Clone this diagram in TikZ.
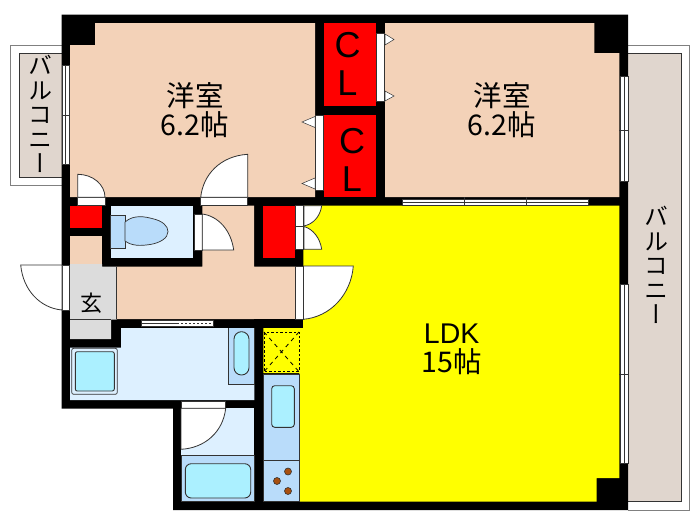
\documentclass[tikz,border=0pt]{standalone}
\usepackage{fontspec}
\setmainfont{Noto Sans CJK JP}
\newfontfamily\vertfont[RawFeature=+vert]{Noto Sans CJK JP}
\newfontfamily\latfont{Liberation Sans}
\definecolor{salmon}{HTML}{F3D2B8}
\definecolor{closet}{HTML}{FF0000}
\definecolor{ldk}{HTML}{FFFF00}
\definecolor{wet}{HTML}{DDF0FF}
\definecolor{fixture}{HTML}{B9DCFA}
\definecolor{basin}{HTML}{ABF0FF}
\definecolor{deck}{HTML}{E0D6CE}
\definecolor{entry}{HTML}{DCDCDC}
\definecolor{burner}{HTML}{A85010}
\definecolor{edge}{HTML}{333333}
\tikzset{
  roomfill/.style={fill=#1,draw=none},
  frame/.style={fill=white,draw=edge,line width=.5pt},
  swing/.style={fill=white,draw=edge,line width=.8pt},
  fixbox/.style={fill=fixture,draw=edge,line width=.7pt},
  bowl/.style={fill=basin,draw=edge,line width=.9pt,rounded corners=#1},
  handle/.style={fill=white,draw=edge,line width=.5pt},
  glass/.style={fill=white,draw=edge,line width=.5pt},
  roomlabel/.style={font=\fontsize{28.5}{29}\selectfont,align=center,text=black},
  decklabel/.style={font=\vertfont\fontsize{24}{24.6}\selectfont,align=center,text=black},
  cllabel/.style={font=\latfont\fontsize{36}{37.5}\selectfont,align=center,text=black},
}
\begin{document}
\begin{tikzpicture}[x=1pt,y=-1pt]
\useasboundingbox (0,0) rectangle (700,525);
% balconies
\draw[gray,line width=.8pt,fill=white] (61.5,45) -- (10.3,45) -- (10.3,185.3) -- (61.5,185.3);
\draw[edge,line width=.7pt,fill=deck] (61.5,53.3) -- (19,53.3) -- (19,177.3) -- (61.5,177.3);
\draw[gray,line width=.8pt,fill=white] (628,45) -- (689.3,45) -- (689.3,510) -- (628,510);
\draw[edge,line width=.7pt,fill=deck] (628,53.3) -- (681,53.3) -- (681,501.7) -- (628,501.7);
% walls
\fill[black] (61.5,14.5) -- (628,14.5) -- (628,510) -- (173,510) -- (173,408.5) -- (61.5,408.5) -- cycle;
% rooms
\fill[salmon] (95,23) -- (315,23) -- (315,197) -- (70,197) -- (70,45) -- (95,45) -- cycle;
\fill[salmon] (385,23) -- (594.3,23) -- (594.3,53) -- (619.4,53) -- (619.4,197) -- (385,197) -- cycle;
\fill[closet] (324,23) rectangle (376,105.7);
\fill[closet] (324,115) rectangle (376,196.7);
\fill[closet] (263.3,205.7) rectangle (295,257.7);
\fill[closet] (70,206) rectangle (102,228);
\fill[salmon] (70,236) rectangle (102,264);
\fill[salmon] (202.3,205.7) -- (254.2,205.7) -- (254.2,266.7) -- (295,266.7) -- (295,319) -- (116.7,319) -- (116.7,266.7) -- (202.3,266.7) -- cycle;
\fill[ldk] (303.4,205.7) -- (619.4,205.7) -- (619.4,478) -- (596.7,478) -- (596.7,501.7) -- (299.3,501.7) -- (299.3,373) -- (263.3,373) -- (263.3,328) -- (299.3,328) -- (303.4,319) -- cycle;
\fill[black] (254.3,319) rectangle (303.4,328);
% entry
\draw[roomfill=entry] (70,264) -- (102,264) -- (102,266.7) -- (116.7,266.7) -- (116.7,319.5) -- (111,319.5) -- (111,339) -- (70,339) -- cycle;
\draw[edge,line width=.6pt] (70,319) -- (111,319);
\draw[edge,line width=.6pt] (116.7,266.7) -- (116.7,319);
% washroom and bath
\fill[wet] (121,328) -- (254.3,328) -- (254.3,400) -- (70,400) -- (70,347.7) -- (121,347.7) -- cycle;
\fill[wet] (181,408.3) rectangle (254.3,455);
\fill[wet] (110.7,205.7) rectangle (193.3,257.7);
% WC
\draw[fixbox] (110.7,215) rectangle (125,248.3);
\draw[fixbox] (125,222) .. controls (134,214) and (146,217) .. (152,218.5) .. controls (163,221) and (168,226) .. (168,231.7) .. controls (168,238) and (160,243) .. (150,244.5) .. controls (140,246) and (132,246) .. (125,241) -- cycle;
% washer pan
\draw[fill=wet,draw=edge,line width=.7pt,rounded corners=2pt] (71.7,348.3) rectangle (117.3,394.3);
\draw[bowl=2pt] (75.3,351.7) rectangle (114.3,391);
% wash basin
\draw[fixbox] (228,328) -- (228,384.3) -- (254.3,384.3) -- (254.3,328);
\draw[bowl=7.4pt] (234,331.7) rectangle (249,375);
% bath
\draw[fixbox] (181.5,455) rectangle (254.3,501.7);
\draw[bowl=6pt] (185.3,463.7) rectangle (250.7,498);
% kitchen
\draw[fixbox] (263.3,374) rectangle (299.3,460);
\draw[fixbox] (263.3,460) rectangle (299.3,501.7);
\draw[bowl=3pt] (271.7,385.7) rectangle (294.3,427.3);
\draw[fill=burner,draw=edge,line width=.6pt] (288,471.5) circle (3.5);
\draw[fill=burner,draw=edge,line width=.6pt] (277,481) circle (3.5);
\draw[fill=burner,draw=edge,line width=.6pt] (288,491) circle (3.5);
% fridge space
\draw[black,dash pattern=on 2.5pt off 2pt,line width=1pt] (264,332) rectangle (299,371.7);
\draw[black,dash pattern=on 4pt off 4pt,line width=.8pt] (264,332) -- (299,371.7) (299,332) -- (264,371.7);
% closet sliding doors
\draw[frame] (376.7,33) rectangle (384.3,101.7);
\draw[handle] (385,34) -- (394,39.5) -- (385,45) -- cycle;
\draw[handle] (385,91) -- (394,96) -- (385,101) -- cycle;
\draw[frame] (315.7,115) rectangle (323,190);
\draw[handle] (315,116.5) -- (302,122) -- (315,127.5) -- cycle;
\draw[handle] (315,178) -- (302,183.5) -- (315,189) -- cycle;
% room doors
\draw[frame] (77.7,197.3) rectangle (105,205);
\draw[swing] (77.7,197.3) -- (77.7,174.3) arc[start angle=90,end angle=0,x radius=27.3,y radius=-23] -- cycle;
\draw[frame] (200.7,197.3) rectangle (247.7,205);
\draw[swing] (247.7,197.3) -- (247.7,154.3) .. controls (220,156) and (203,175) .. (200.7,197.3) -- cycle;
\draw[frame] (194,214) rectangle (202.3,250);
\draw[swing] (202.3,250) -- (233.7,250) .. controls (231,230) and (218,216) .. (202.3,214) -- cycle;
% closet and LDK doors
\draw[frame] (295,205.7) rectangle (303.4,226);
\draw[frame] (295,226.5) rectangle (303.4,249.3);
\draw[swing] (304,205.7) -- (321.7,205.7) .. controls (320,217) and (313,224) .. (304,226) -- cycle;
\draw[swing] (304,226.5) .. controls (313,229) and (320,238) .. (321.7,249.3) -- (304,249.3) -- cycle;
\draw[frame] (295,266) rectangle (303.4,319.3);
\draw[swing] (303.4,266) -- (353.3,266) .. controls (351,295) and (330,317) .. (303.4,319.3) -- cycle;
% entrance door
\draw[frame] (62,265) rectangle (69,310);
\draw[swing] (62,265) -- (20.7,265) .. controls (23,290) and (40,308) .. (62,310) -- cycle;
% bath door
\draw[frame] (181,401) rectangle (225.7,408.3);
\draw[swing] (181,408.3) -- (225.7,408.3) .. controls (223,432) and (205,448) .. (181,449.3) -- cycle;
% washroom sliding door
\draw[frame] (141.3,320) rectangle (213.3,326.7);
\draw[edge,line width=.5pt] (141.3,323.4) -- (177,323.4);
\draw[edge,dash pattern=on 2pt off 2pt,line width=.8pt] (177,323.4) -- (213.3,323.4);
% windows
\draw[glass] (62.3,65.7) rectangle (69,164.3);
\draw[glass] (65.6,65.7) -- (65.6,164.3);
\draw[edge,line width=.5pt] (61.5,115) -- (70,115);
\draw[glass] (620.3,76.7) rectangle (628,181.7);
\draw[edge,line width=.5pt] (624.2,76.7) -- (624.2,181.7) (619.4,130) -- (628,130);
\draw[glass] (620.3,284.3) rectangle (628,463.3);
\draw[edge,line width=.5pt] (624.2,284.3) -- (624.2,463.3) (619.4,374) -- (628,374);
\draw[glass] (402.7,199) rectangle (588.7,205);
\draw[edge,line width=.5pt] (402.7,202) -- (588.7,202) (464.3,197) -- (464.3,205.7) (526.7,197) -- (526.7,205.7);
% labels
\node[roomlabel] (roomA) at (195,110) {洋室\\6.2帖};
\node[roomlabel] (roomB) at (502,110) {洋室\\6.2帖};
\node[roomlabel] (roomC) at (451.7,349) {{\latfont LDK}\\15帖};
\node[cllabel] (clA) at (347.5,64) {C\\L};
\node[cllabel] (clB) at (352,160) {C\\L};
\node[font=\fontsize{22}{24}\selectfont] (hall) at (91,303) {玄};
\node[decklabel] (deckA) at (40,114) {バ\\ル\\コ\\ニ\\ー};
\node[decklabel] (deckB) at (656,265) {バ\\ル\\コ\\ニ\\ー};
\end{tikzpicture}
\end{document}
